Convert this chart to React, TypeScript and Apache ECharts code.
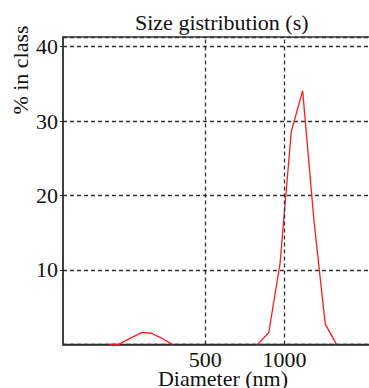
import React, { useEffect, useRef } from "react";
import * as echarts from "echarts";

const TITLE = "Size gistribution (s)";
const X_NAME = "Diameter (nm)";
const Y_NAME = "% in class";

// small population
const smallDiameters = [216, 234, 260, 288, 312, 343, 375];
const smallPercent = [0, 0, 0.85, 1.62, 1.5, 0.8, 0];

// main population
const mainDiameters = [790, 872, 962, 1062, 1173, 1294, 1429, 1577];
const mainPercent = [0, 1.57, 10.8, 28.6, 34.1, 16.8, 2.75, 0];

const xTickLabels = [500, 1000];
const yTicks = [0, 10, 20, 30, 40];

const FONT = "Liberation Serif, DejaVu Serif, serif";

export default function App() {
  const ref = useRef<HTMLDivElement>(null);

  useEffect(() => {
    if (!ref.current) return;
    const chart = echarts.init(ref.current, null, { renderer: "svg" });

    const dashed = { color: "#333", width: 1.3, type: [4, 3] as any };
    const redLine = { color: "#ff1a1a", width: 1.3 };

    chart.setOption({
      animation: false,
      backgroundColor: "#fff",
      textStyle: { fontFamily: FONT },
      title: {
        text: TITLE,
        left: 135,
        top: 11,
        padding: 0,
        textStyle: { fontFamily: FONT, fontSize: 22, fontWeight: "normal", color: "#111" },
      },
      grid: {
        left: 63,
        top: 37,
        right: -2,
        bottom: 43.6,
        containLabel: false,
        outerBoundsMode: "none",
        show: true,
        borderColor: "#333",
        borderWidth: 1.5,
        backgroundColor: "transparent",
      },
      graphic: [
        {
          type: "text",
          x: 20,
          y: 70,
          rotation: Math.PI / 2,
          style: {
            text: Y_NAME,
            fontFamily: FONT,
            fontSize: 22,
            fill: "#111",
            align: "center",
            verticalAlign: "middle",
          },
        },
      ],
      xAxis: {
        type: "log",
        min: 144,
        max: 2134,
        name: X_NAME,
        nameLocation: "middle",
        nameGap: 26.5,
        nameMoveOverlap: false,
        nameTextStyle: {
          fontFamily: FONT,
          fontSize: 22,
          lineHeight: 16,
          color: "#111",
          padding: [0, 0, 0, 12],
        },
        axisLine: { show: true, lineStyle: { color: "#333", width: 1.5 } },
        axisTick: { show: false, customValues: xTickLabels },
        axisLabel: {
          customValues: xTickLabels,
          fontFamily: FONT,
          fontSize: 22,
          lineHeight: 16,
          color: "#111",
          margin: 7.5,
          formatter: (v: number) => String(Math.round(v)),
        },
        splitLine: { show: false },
      },
      yAxis: {
        type: "value",
        min: 0,
        max: 41.3,
        interval: 10,
        axisLine: { show: true, lineStyle: { color: "#333", width: 1.5 } },
        axisTick: { show: true, length: 3, lineStyle: { color: "#333" } },
        axisLabel: {
          showMinLabel: false,
          showMaxLabel: false,
          fontFamily: FONT,
          fontSize: 22,
          color: "#111",
          margin: 5,
          padding: [5, 0, 0, 0],
          formatter: (v: number) => (yTicks.includes(v) ? String(v) : ""),
        },
        splitLine: { show: true, lineStyle: dashed },
      },
      series: [
        {
          type: "line",
          data: smallDiameters.map((d, i) => [d, smallPercent[i]]),
          showSymbol: false,
          symbol: "none",
          lineStyle: redLine,
          z: 3,
        },
        {
          type: "line",
          data: mainDiameters.map((d, i) => [d, mainPercent[i]]),
          showSymbol: false,
          symbol: "none",
          lineStyle: redLine,
          markLine: {
            silent: true,
            symbol: "none",
            label: { show: false },
            lineStyle: dashed,
            data: xTickLabels.map((v) => ({ xAxis: v })),
          },
          z: 3,
        },
      ],
    });

    return () => chart.dispose();
  }, []);

  return (
    <div
      ref={ref}
      style={{ position: "fixed", left: 0, top: 0, width: 369, height: 388 }}
    />
  );
}
